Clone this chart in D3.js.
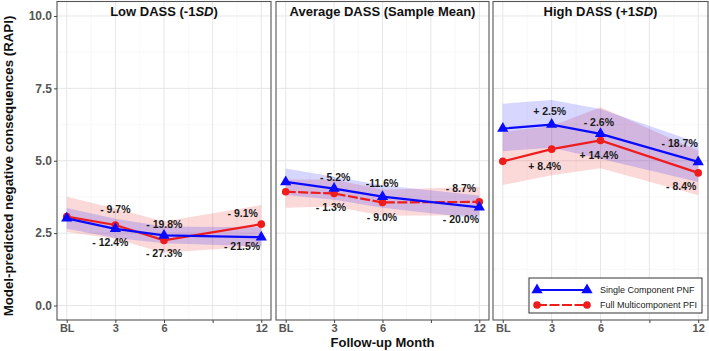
<!DOCTYPE html>
<html><head><meta charset="utf-8">
<script src="https://cdn.jsdelivr.net/npm/d3@7"></script>
<style>body{margin:0;background:#fff}svg{display:block}text{font-family:"Liberation Sans",Arial,sans-serif}</style>
</head><body><svg id="c" width="709" height="351"></svg>
<script>
// ---- data ----
const months = [0, 3, 6, 12];
const xTicks = [0, 3, 6, 9, 12];
const xTickLabels = ["BL", "3", "6", "", "12"];
const yTicks = [0, 2.5, 5, 7.5, 10];
const panelTitlesPre = ["Low DASS (-1", "Average DASS (Sample Mean)", "High DASS (+1"];
const panelTitlesItal = ["SD", "", "SD"];
const panelTitlesPost = [")", "", ")"];
const seriesNames = ["Single Component PNF", "Full Multicomponent PFI"];

// Single Component PNF (blue)
const pnfLow = [3.01, 2.65, 2.42, 2.36];
const pnfAvg = [4.27, 4.04, 3.76, 3.39];
const pnfHigh = [6.11, 6.25, 5.93, 4.96];
const pnfLowCI = [[2.65, 3.37], [2.33, 3.00], [2.15, 2.73], [2.04, 2.70]];
const pnfAvgCI = [[3.82, 4.73], [3.65, 4.45], [3.38, 4.15], [3.00, 3.80]];
const pnfHighCI = [[5.33, 6.97], [5.45, 7.10], [5.07, 6.79], [4.27, 5.62]];

// Full Multicomponent PFI (red)
const pfiLow = [3.07, 2.78, 2.25, 2.81];
const pfiAvg = [3.93, 3.87, 3.56, 3.58];
const pfiHigh = [4.98, 5.40, 5.70, 4.58];
const pfiLowCI = [[2.55, 3.76], [2.30, 3.35], [1.82, 2.90], [2.05, 3.47]];
const pfiAvgCI = [[3.38, 4.35], [3.42, 4.35], [3.10, 4.00], [3.12, 4.10]];
const pfiHighCI = [[4.16, 6.00], [4.50, 6.20], [4.74, 6.85], [3.81, 5.35]];

// percentage-change annotations [text, month, value]
const lowLabels = [["- 9.7%", 3.0, 3.32], ["- 12.4%", 2.69, 2.17], ["- 19.8%", 6.02, 2.81], ["- 27.3%", 6.0, 1.8], ["- 9.1%", 10.86, 3.2], ["- 21.5%", 10.81, 2.03]];
const avgLabels = [["- 5.2%", 3.07, 4.44], ["- 1.3%", 2.81, 3.39], ["-11.6%", 5.97, 4.23], ["- 9.0%", 5.97, 3.06], ["- 8.7%", 10.86, 4.04], ["- 20.0%", 10.86, 2.97]];
const highLabels = [["+ 2.5%", 2.88, 6.72], ["- 2.6%", 5.9, 6.32], ["- 18.7%", 10.86, 5.59], ["+ 8.4%", 2.57, 4.81], ["+ 14.4%", 5.9, 5.19], ["- 8.4%", 10.96, 4.13]];

const pnfMeans = [pnfLow, pnfAvg, pnfHigh];
const pnfCIs = [pnfLowCI, pnfAvgCI, pnfHighCI];
const pfiMeans = [pfiLow, pfiAvg, pfiHigh];
const pfiCIs = [pfiLowCI, pfiAvgCI, pfiHighCI];
const labelSets = [lowLabels, avgLabels, highLabels];

// ---- layout / style ----
const BLUE = "#0a0aff", RED = "#ee1c1c";
const redDash = [null, "10,2.5", null];
const svg = d3.select("#c");
const panelX = [[57, 271], [276, 489], [493, 708]];
const pTop = 1.5, pBottom = 320;
const y = d3.scaleLinear().domain([-0.5, 10.5]).range([pBottom, pTop]);

panelX.forEach((px, i) => {
  const x = d3.scaleLinear().domain([-0.6, 12.6]).range(px);
  const g = svg.append("g");
  g.append("rect").attr("x", px[0]).attr("y", pTop).attr("width", px[1] - px[0]).attr("height", pBottom - pTop).attr("fill", "#fff");
  // minor grid
  [1.25, 3.75, 6.25, 8.75].forEach(v => g.append("line").attr("x1", px[0]).attr("x2", px[1]).attr("y1", y(v)).attr("y2", y(v)).attr("stroke", "#f3f3f3").attr("stroke-width", 0.6));
  [1.5, 4.5, 7.5, 10.5].forEach(v => g.append("line").attr("y1", pTop).attr("y2", pBottom).attr("x1", x(v)).attr("x2", x(v)).attr("stroke", "#f3f3f3").attr("stroke-width", 0.6));
  yTicks.forEach(v => g.append("line").attr("x1", px[0]).attr("x2", px[1]).attr("y1", y(v)).attr("y2", y(v)).attr("stroke", "#e6e6e6").attr("stroke-width", 1));
  xTicks.forEach(v => g.append("line").attr("y1", pTop).attr("y2", pBottom).attr("x1", x(v)).attr("x2", x(v)).attr("stroke", "#e6e6e6").attr("stroke-width", 1));

  const area = d3.area().x((d, j) => x(months[j])).y0(d => y(d[0])).y1(d => y(d[1]));
  const line = d3.line().x((d, j) => x(months[j])).y(d => y(d));
  g.append("path").attr("d", area(pfiCIs[i])).attr("fill", RED).attr("fill-opacity", 0.17);
  g.append("path").attr("d", area(pnfCIs[i])).attr("fill", BLUE).attr("fill-opacity", 0.17);

  g.append("path").attr("d", line(pfiMeans[i])).attr("fill", "none").attr("stroke", RED).attr("stroke-width", 2.2).attr("stroke-dasharray", redDash[i]);
  g.append("path").attr("d", line(pnfMeans[i])).attr("fill", "none").attr("stroke", BLUE).attr("stroke-width", 2.2);
  pfiMeans[i].forEach((v, j) => g.append("circle").attr("cx", x(months[j])).attr("cy", y(v)).attr("r", 3.8).attr("fill", RED));
  const tri = d3.symbol().type(d3.symbolTriangle).size(55);
  pnfMeans[i].forEach((v, j) => g.append("path").attr("d", tri()).attr("transform", `translate(${x(months[j])},${y(v)})`).attr("fill", BLUE));

  labelSets[i].forEach(l => g.append("text").attr("x", x(l[1])).attr("y", y(l[2])).attr("dy", "0.35em").attr("text-anchor", "middle")
    .attr("font-size", 10.5).attr("font-weight", "bold").attr("fill", "#1a1a1a").text(l[0]));

  const t = g.append("text").attr("x", (px[0] + px[1]) / 2).attr("y", 16).attr("text-anchor", "middle").attr("font-size", 13).attr("font-weight", "bold").attr("fill", "#111");
  t.append("tspan").text(panelTitlesPre[i]);
  if (panelTitlesItal[i]) t.append("tspan").attr("font-style", "italic").text(panelTitlesItal[i]);
  if (panelTitlesPost[i]) t.append("tspan").text(panelTitlesPost[i]);

  g.append("rect").attr("x", px[0]).attr("y", pTop).attr("width", px[1] - px[0]).attr("height", pBottom - pTop).attr("fill", "none").attr("stroke", "#555").attr("stroke-width", 1.1);

  // x axis
  const xa = g.append("g").attr("transform", `translate(0,${pBottom})`)
    .call(d3.axisBottom(x).tickValues(xTicks).tickFormat((d, j) => xTickLabels[j]).tickSize(3).tickPadding(1));
  xa.select(".domain").remove();
  xa.selectAll("line").attr("stroke", "#444");
  xa.selectAll("text").attr("font-size", 11).attr("font-weight", "bold").attr("fill", "#555").attr("font-family", "Liberation Sans, Arial, sans-serif");

  if (i === 0) {
    const ya = g.append("g").attr("transform", `translate(${px[0]},0)`)
      .call(d3.axisLeft(y).tickValues(yTicks).tickFormat(d3.format(".1f")).tickSize(3).tickPadding(2));
    ya.select(".domain").remove();
    ya.selectAll("line").attr("stroke", "#444");
    ya.selectAll("text").attr("font-size", 12).attr("font-weight", "bold").attr("fill", "#555").attr("font-family", "Liberation Sans, Arial, sans-serif");
  }
});

// axis titles
svg.append("text").attr("transform", `translate(13,166) rotate(-90)`).attr("text-anchor", "middle")
  .attr("font-size", 13.3).attr("font-weight", "bold").attr("fill", "#111").text("Model-predicted negative consequences (RAPI)");
svg.append("text").attr("x", (panelX[1][0] + panelX[1][1]) / 2).attr("y", 347).attr("text-anchor", "middle")
  .attr("font-size", 13).attr("font-weight", "bold").attr("fill", "#111").text("Follow-up Month");

// legend
const lg = svg.append("g");
lg.append("rect").attr("x", 529).attr("y", 278).attr("width", 173).attr("height", 35).attr("fill", "#fff").attr("stroke", "#333").attr("stroke-width", 1);
[[290, BLUE, null], [305, RED, "10,2.5"]].forEach((r, k) => {
  lg.append("line").attr("x1", 537).attr("x2", 587).attr("y1", r[0]).attr("y2", r[0]).attr("stroke", r[1]).attr("stroke-width", 2.2).attr("stroke-dasharray", r[2]);
  [537, 587].forEach(cx => {
    if (k === 0) lg.append("path").attr("d", d3.symbol().type(d3.symbolTriangle).size(55)()).attr("transform", `translate(${cx},${r[0]})`).attr("fill", BLUE);
    else lg.append("circle").attr("cx", cx).attr("cy", r[0]).attr("r", 3.8).attr("fill", RED);
  });
  lg.append("text").attr("x", 600).attr("y", r[0]).attr("dy", "0.35em").attr("font-size", 9).attr("fill", "#222").text(seriesNames[k]);
});
</script></body></html>
